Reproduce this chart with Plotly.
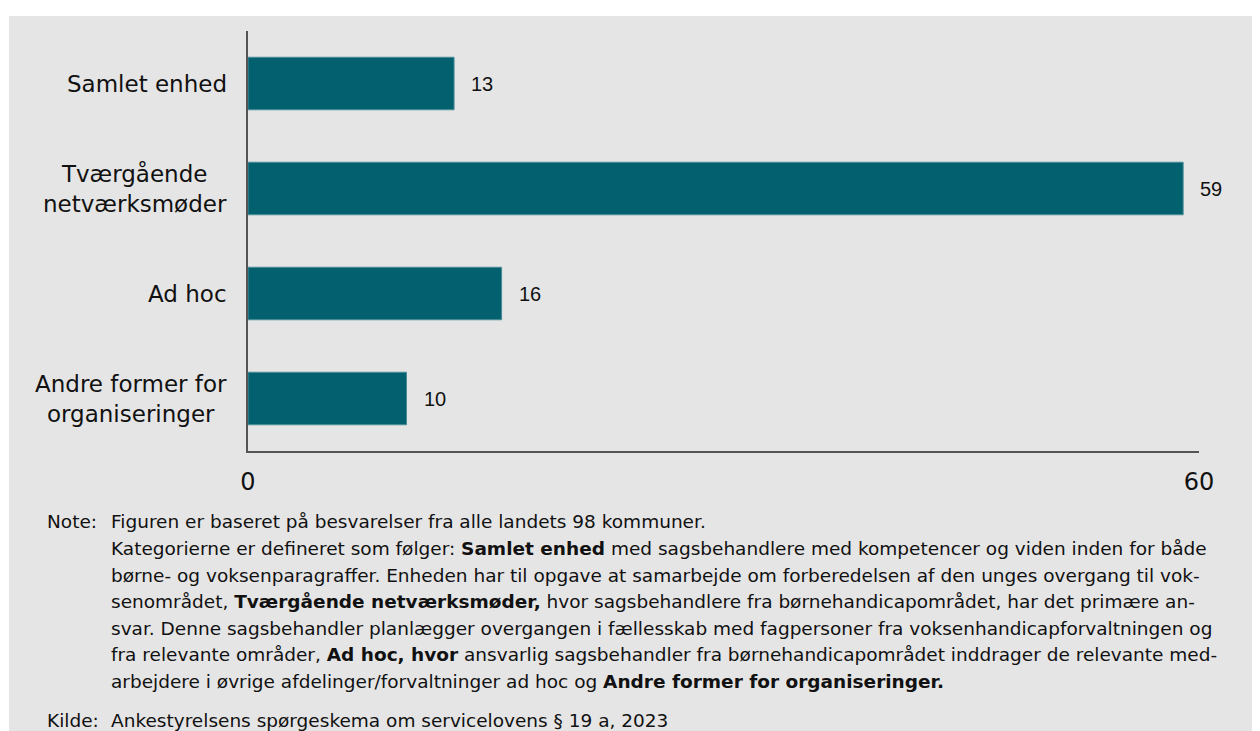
import plotly.graph_objects as go

# data
categories = ["Samlet enhed", "Tværgående netværksmøder", "Ad hoc", "Andre former for organiseringer"]
category_labels = ["Samlet enhed", "Tværgående<br>netværksmøder", "Ad hoc", "Andre former for<br>organiseringer"]
values = [13, 59, 16, 10]
x_ticks = [0, 60]

note_lines = [
    "Figuren er baseret på besvarelser fra alle landets 98 kommuner.",
    "Kategorierne er defineret som følger: <b>Samlet enhed</b> med sagsbehandlere med kompetencer og viden inden for både",
    "børne- og voksenparagraffer. Enheden har til opgave at samarbejde om forberedelsen af den unges overgang til vok-",
    "senområdet, <b>Tværgående netværksmøder,</b> hvor sagsbehandlere fra børnehandicapområdet, har det primære an-",
    "svar. Denne sagsbehandler planlægger overgangen i fællesskab med fagpersoner fra voksenhandicapforvaltningen og",
    "fra relevante områder, <b>Ad hoc, hvor</b> ansvarlig sagsbehandler fra børnehandicapområdet inddrager de relevante med-",
    "arbejdere i øvrige afdelinger/forvaltninger ad hoc og <b>Andre former for organiseringer.</b>",
]
source_text = "Ankestyrelsens spørgeskema om servicelovens § 19 a, 2023"

# page sits 8px inside the window (body margin), so work in window pixels minus 8
OFF = 8
FIG_W, FIG_H = 1260 - OFF, 731 - OFF
L, R, T, B = 248 - OFF, 1199 - OFF, 31 - OFF, 451 - OFF
W, H = R - L, B - T


def px_x(px):
    return (px - OFF - L) / W


def px_y(py):
    return (B - (py - OFF)) / H


FONT = "Tahoma, DejaVu Sans, sans-serif"
BAR = "#03606f"
AXIS = "#555555"

fig = go.Figure()
fig.add_trace(go.Bar(
    x=values, y=categories, orientation="h", width=0.5,
    marker=dict(color=BAR, line=dict(color="#4a8c97", width=1)),
    hoverinfo="x+y", showlegend=False,
))

annotations = []
for c, lab in zip(categories, category_labels):
    annotations.append(dict(x=0, y=c, xref="paper", yref="y", text=lab, showarrow=False,
                            xanchor="right", yanchor="middle", align="center", xshift=-19,
                            font=dict(family=FONT, size=23, color="#111111")))
for c, v in zip(categories, values):
    annotations.append(dict(x=v, y=c, xref="x", yref="y", text=str(v), showarrow=False,
                            xanchor="left", yanchor="middle", xshift=15,
                            font=dict(family="Liberation Sans, Arial", size=20, color="#111111")))

note_font = dict(family=FONT, size=18.5, color="#111111")
line_y = [521, 548, 575, 601, 628, 654, 681]
annotations.append(dict(x=px_x(45), y=px_y(line_y[0]), xref="paper", yref="paper", text="Note:",
                        showarrow=False, xanchor="left", yanchor="middle", font=note_font))
for ly, txt in zip(line_y, note_lines):
    annotations.append(dict(x=px_x(109), y=px_y(ly), xref="paper", yref="paper", text=txt,
                            showarrow=False, xanchor="left", yanchor="middle", font=note_font))
annotations.append(dict(x=px_x(45), y=px_y(720), xref="paper", yref="paper", text="Kilde:",
                        showarrow=False, xanchor="left", yanchor="middle", font=note_font))
annotations.append(dict(x=px_x(109), y=px_y(720), xref="paper", yref="paper", text=source_text,
                        showarrow=False, xanchor="left", yanchor="middle", font=note_font))

fig.update_layout(
    width=FIG_W, height=FIG_H,
    margin=dict(l=L, r=FIG_W - R, t=T, b=FIG_H - B, pad=0),
    paper_bgcolor="white",
    plot_bgcolor="rgba(0,0,0,0)",
    bargap=0.5,
    annotations=annotations,
    shapes=[dict(type="rect", xref="paper", yref="paper", layer="below",
                 x0=px_x(9), x1=px_x(1265), y0=px_y(740), y1=px_y(16),
                 fillcolor="#e5e5e5", line=dict(width=0))],
    xaxis=dict(range=[0, 60], tickvals=x_ticks, ticks="inside", ticklen=7, tickcolor=AXIS,
               tickwidth=1.2, showline=True, linecolor=AXIS, linewidth=1.5, showgrid=False,
               zeroline=False, ticklabelstandoff=8,
               tickfont=dict(family=FONT, size=24, color="#111111")),
    yaxis=dict(type="category", range=[3.5, -0.5], showline=True, linecolor=AXIS, linewidth=1.5,
               showgrid=False, zeroline=False, showticklabels=False, ticks=""),
)

fig.write_html("out.html")
